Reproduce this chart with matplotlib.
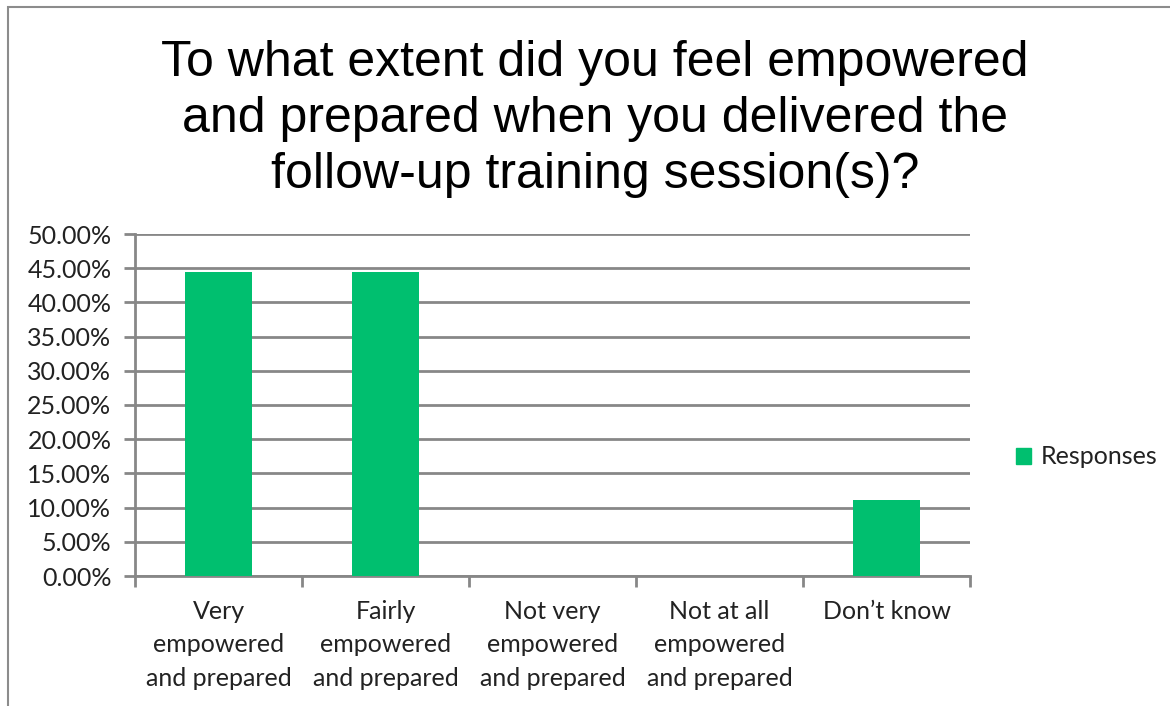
import numpy as np
from matplotlib import pyplot as plt
from matplotlib.patches import Rectangle, Patch
from matplotlib.ticker import FuncFormatter

categories = ['Very\nempowered\nand prepared', 'Fairly\nempowered\nand prepared',
              'Not very\nempowered\nand prepared', 'Not at all\nempowered\nand prepared',
              'Don\u2019t know']
responses = [44.44, 44.44, 0.0, 0.0, 11.11]
yticks = np.arange(0, 50.01, 5)

title = 'To what extent did you feel empowered\nand prepared when you delivered the\nfollow-up training session(s)?'

green = '#00BF6F'
grey = '#878787'

W, H = 1170, 706
fig = plt.figure(figsize=(W / 100, H / 100), dpi=100)

# outer chart border (only left and top edges are visible in the crop)
fig.patches.append(Rectangle((8 / W, -0.2), 1.2, 1.2 - 7 / H, transform=fig.transFigure,
                             fill=False, edgecolor='#8c8c8c', linewidth=1.5))

ax = fig.add_axes([135 / W, 1 - 576 / H, (970 - 135) / W, (576 - 234) / H])
x = np.arange(len(categories))
ax.bar(x, responses, width=0.4, color=green, zorder=3)

ax.set_xlim(-0.5, len(categories) - 0.5)
ax.set_ylim(0, 50)
ax.set_yticks(yticks)
ax.yaxis.set_major_formatter(FuncFormatter(lambda v, p: '{:.2f}%'.format(v)))
ax.grid(axis='y', color=grey, linewidth=2, zorder=0)

for s in ['top', 'right']:
    ax.spines[s].set_visible(False)
for s in ['left', 'bottom']:
    ax.spines[s].set_color(grey)
    ax.spines[s].set_linewidth(2)

ax.set_xticks(np.arange(-0.5, len(categories)), minor=False)
ax.set_xticklabels([])
ax.set_xticks(x, minor=True)
ax.set_xticklabels(categories, minor=True, fontsize=18, family='Lato', color='#222222',
                   linespacing=1.55)
ax.tick_params(axis='x', which='major', length=8, width=2, color=grey)
ax.tick_params(axis='x', which='minor', length=0, pad=17)
ax.tick_params(axis='y', length=8, width=2, color=grey, labelsize=18, labelcolor='#222222', pad=9)
for lab in ax.get_yticklabels():
    lab.set_family('Lato')

fig.text(595 / W, 1 - 119 / H, title, ha='center', va='center', fontsize=36,
         family='Liberation Sans', linespacing=1.28, color='black')

leg = fig.legend(handles=[Patch(color=green, label='Responses')], loc='center left',
                 bbox_to_anchor=(993 / W, 1 - 457 / H), frameon=False,
                 prop={'family': 'Lato', 'size': 18}, handlelength=0.6, handleheight=0.6,
                 handletextpad=0.4)
for t in leg.get_texts():
    t.set_color('#222222')

plt.savefig('out.png', dpi=100)
